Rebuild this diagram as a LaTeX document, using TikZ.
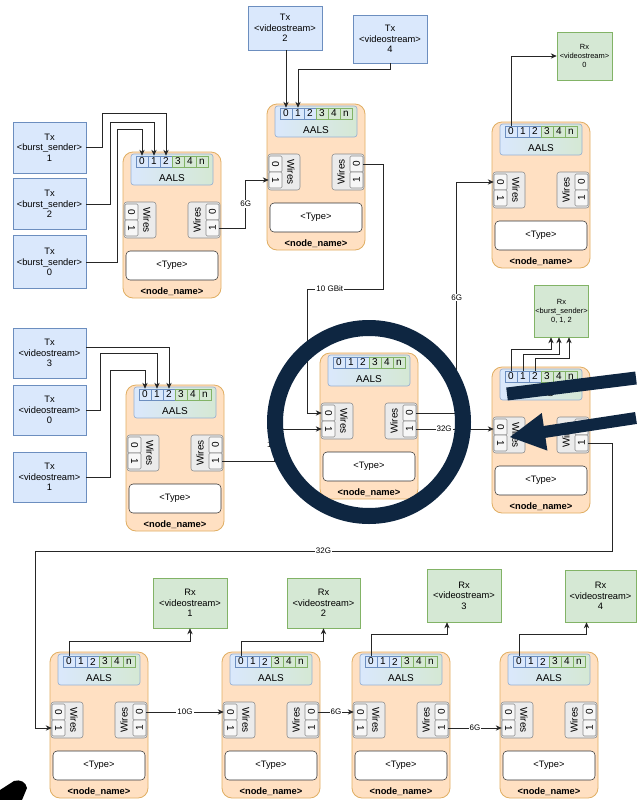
\documentclass[tikz,border=0pt]{standalone}
\usepackage{fontspec}
\setmainfont{Liberation Sans}
\usepackage{graphicx}
\usetikzlibrary{arrows.meta,calc}

\definecolor{txfill}{HTML}{DAE8FC}
\definecolor{txline}{HTML}{6C8EBF}
\definecolor{rxfill}{HTML}{D5E8D4}
\definecolor{rxline}{HTML}{82B366}
\definecolor{modfill}{HTML}{FFE0C2}
\definecolor{modline}{HTML}{E0AE62}
\definecolor{wirefill}{HTML}{EBEBEB}
\definecolor{wireline}{HTML}{8A8A8A}
\definecolor{navy}{HTML}{0E2641}

\tikzset{
  every node/.style={font=\fontsize{7}{7.8}\selectfont, inner sep=0pt},
  wh/.style 2 args={minimum width=#1*0.75pt, minimum height=#2*0.75pt},
  txbox/.style={draw=txline, fill=txfill, align=center},
  rxbox/.style={draw=rxline, fill=rxfill, align=center},
  smalltxt/.style={font=\fontsize{5.6}{6.8}\selectfont},
  cellb/.style={draw=txline, fill=txfill, wh={12}{11}, font=\fontsize{7.5}{7.5}\selectfont},
  cellg/.style={draw=rxline, fill=rxfill, wh={12}{11}, font=\fontsize{7.5}{7.5}\selectfont},
  wcell/.style={draw=wireline, fill=white!60!wirefill, rounded corners=1pt, wh={13}{16}, font=\fontsize{7.5}{7.5}\selectfont},
  conn/.style={draw=black!85, line width=0.7pt, -{Stealth[length=4.5pt,width=4pt]}},
  ratelbl/.style={fill=white, font=\fontsize{6}{6}\selectfont, inner sep=0.8pt},
  module/.pic={
    % body, AALS ports, wires, type
    \draw[draw=modline, fill=modfill, rounded corners=7.5pt, line width=0.6pt] (0,0) rectangle (98,146);
    \draw[draw=txline!70, left color=txfill, right color=rxfill, rounded corners=2pt, line width=0.5pt] (8,2) rectangle (90,33);
    \foreach \c [count=\i from 0] in {0,1,2}
      \node[cellb] (-a\c) at (19+12*\i,9.5) {\c};
    \foreach \c [count=\i from 3] in {3,4,n}
      \node[cellg] (-a\c) at (19+12*\i,9.5) {\c};
    \node[font=\fontsize{7.5}{7.5}\selectfont] (-aals) at (49,26) {AALS};
    \draw[draw=wireline, fill=wirefill, rounded corners=2pt] (1,50) rectangle (33,86);
    \node[wcell] (-l0) at (8.5,60) {\rotatebox{-90}{0}};
    \node[wcell] (-l1) at (8.5,76) {\rotatebox{-90}{1}};
    \node[rotate=-90, font=\fontsize{7.5}{7.5}\selectfont] (-lw) at (24,68) {Wires};
    \draw[draw=wireline, fill=wirefill, rounded corners=2pt] (65,50) rectangle (97,86);
    \node[wcell] (-r0) at (89.5,60) {\rotatebox{90}{0}};
    \node[wcell] (-r1) at (89.5,76) {\rotatebox{90}{1}};
    \node[rotate=90, font=\fontsize{7.5}{7.5}\selectfont] (-rw) at (74,68) {Wires};
    \draw[draw=black!80, fill=white, rounded corners=3pt] (3,99) rectangle (95,128);
    \node (-type) at (49,113.5) {<Type>};
    \node[font=\fontsize{7}{7}\selectfont\bfseries] (-name) at (49,140) {<node\_name>};
  }
}

\begin{document}
\begin{tikzpicture}[x=0.75pt,y=-0.75pt]
\fill[white] (0,0) rectangle (636,800);
\useasboundingbox (0,0) rectangle (636,800);

% nodes
\pic (m1) at (123,152) {module};
\pic (m2) at (267,104) {module};
\pic (m3) at (492,122) {module};
\pic (m4) at (126,385) {module};
\pic (m5) at (320,353) {module};
\pic (m6) at (492,367) {module};
\pic (m7) at (50,652) {module};
\pic (m8) at (222,652) {module};
\pic (m9) at (352,652) {module};
\pic (m10) at (500,652) {module};

% senders
\node[txbox, wh={73}{51}] (txb1) at (49.5,147.5) {Tx\\<burst\_sender>\\1};
\node[txbox, wh={73}{51}] (txb2) at (49.5,204) {Tx\\<burst\_sender>\\2};
\node[txbox, wh={73}{53}] (txb0) at (49.5,262) {Tx\\<burst\_sender>\\0};
\node[txbox, wh={74}{44}] (txv2) at (285,28) {Tx\\<videostream>\\2};
\node[txbox, wh={74}{48}] (txv4) at (390,39) {Tx\\<videostream>\\4};
\node[txbox, wh={73}{50}] (txv3) at (49.5,353) {Tx\\<videostream>\\3};
\node[txbox, wh={73}{50}] (txv0) at (49.5,410) {Tx\\<videostream>\\0};
\node[txbox, wh={73}{50}] (txv1) at (49.5,477) {Tx\\<videostream>\\1};

% receivers
\node[rxbox, smalltxt, wh={55}{48}] (rxv0) at (584.5,56) {Rx\\<videostream>\\0};
\node[rxbox, smalltxt, wh={54}{52}] (rxb) at (561.5,311) {Rx\\<burst\_sender>\\0, 1, 2};
\node[rxbox, wh={74}{50}] (rxv1) at (190,603) {Rx\\<videostream>\\1};
\node[rxbox, wh={73}{50}] (rxv2) at (323.5,603) {Rx\\<videostream>\\2};
\node[rxbox, wh={74}{53}] (rxv3) at (464,595.5) {Rx\\<videostream>\\3};
\node[rxbox, wh={71}{52}] (rxv4) at (600.5,596) {Rx\\<videostream>\\4};

% streams into the AALS ports
\draw[conn] (txb1.east) -| (102,113) -| (m1-a2.north);
\draw[conn] (txb2.east) -| (110,122) -| (m1-a1.north);
\draw[conn] (txb0.east) -| (117,129) -| (m1-a0.north);
\draw[conn] (txv2.south -| m2-a0) -- (m2-a0.north);
\draw[conn] (txv4.south) -- ++(0,6) -| (m2-a1.north);
\draw[conn] ($(txv3.east)+(0,-6)$) -| (m4-a2.north);
\draw[conn] (txv0.east) -| (100,353) -| (m4-a1.north);
\draw[conn] (txv1.east) -| (110,370) -| (m4-a0.north);

% links between nodes
\draw[conn] (m1-r1.east) -| node[ratelbl,pos=0.75]{6G} ($(m2-l1.west)+(-23,0)$) -- (m2-l1.west);
\draw[conn] (m2-r0.east) -| (383,289) -- node[ratelbl,pos=0.7]{10 GBit} (307,289) |- (m5-l0.west);
\draw[conn] (m4-r1.east) -| node[ratelbl,pos=0.75]{10G} ($(m5-l1.west)+(-47,0)$) -- (m5-l1.west);
\draw[conn] (m5-r0.east) -| node[ratelbl,pos=0.75]{6G} ($(m3-l0.west)+(-37,0)$) -- (m3-l0.west);
\draw[conn] (m5-r1.east) -- node[ratelbl,pos=0.36]{32G} (m5-r1.east -| m6-l0.west);
\draw[conn] (m6-r1.east) -| (612,551) -- node[ratelbl]{32G} (35,551) |- (m7-l1.west);
\draw[conn] (m7-r0.east) -- node[ratelbl]{10G} (m8-l0.west);
\draw[conn] (m8-r0.east) -- node[ratelbl]{6G} (m9-l0.west);
\draw[conn] (m9-r1.east) -- node[ratelbl]{6G} (m10-l1.west);

% AALS ports out to the receivers
\draw[conn] (m3-a0.north) |- (rxv0.west);
\draw[conn] (m6-a0.north) -- ++(0,-21) -| ($(rxb.south)+(-10.5,0)$);
\draw[conn] (m6-a1.north) -- ++(0,-16) -| ($(rxb.south)+(-2.5,0)$);
\draw[conn] (m6-a2.north) -- ++(0,-12) -| ($(rxb.south)+(7.5,0)$);
\draw[conn] (m7-a0.north) -- ++(0,-14) -| (rxv1.south);
\draw[conn] (m8-a0.north) -- ++(0,-14) -| (rxv2.south);
\draw[conn] (m9-a0.north) -- ++(0,-21) -| ($(rxv3.south)+(-17,0)$);
\draw[conn] (m10-a0.north) -- ++(0,-21) -| ($(rxv4.south)+(-14,0)$);

% annotation on top
\draw[navy, line width=12pt] (369,422) circle (70.5pt);
\draw[navy, line width=9.75pt] (636,378) -- (507,394);
\draw[navy, line width=9pt] (636,418) -- (544,432);
\fill[navy] (510,437) -- (547.4,450.6) -- (541.8,413) -- cycle;
\fill[black] (0,800) -- (0,790) -- (14,781) .. controls (20,779) and (26,782) .. (27,788) -- (22,800) -- cycle;
\end{tikzpicture}
\end{document}
